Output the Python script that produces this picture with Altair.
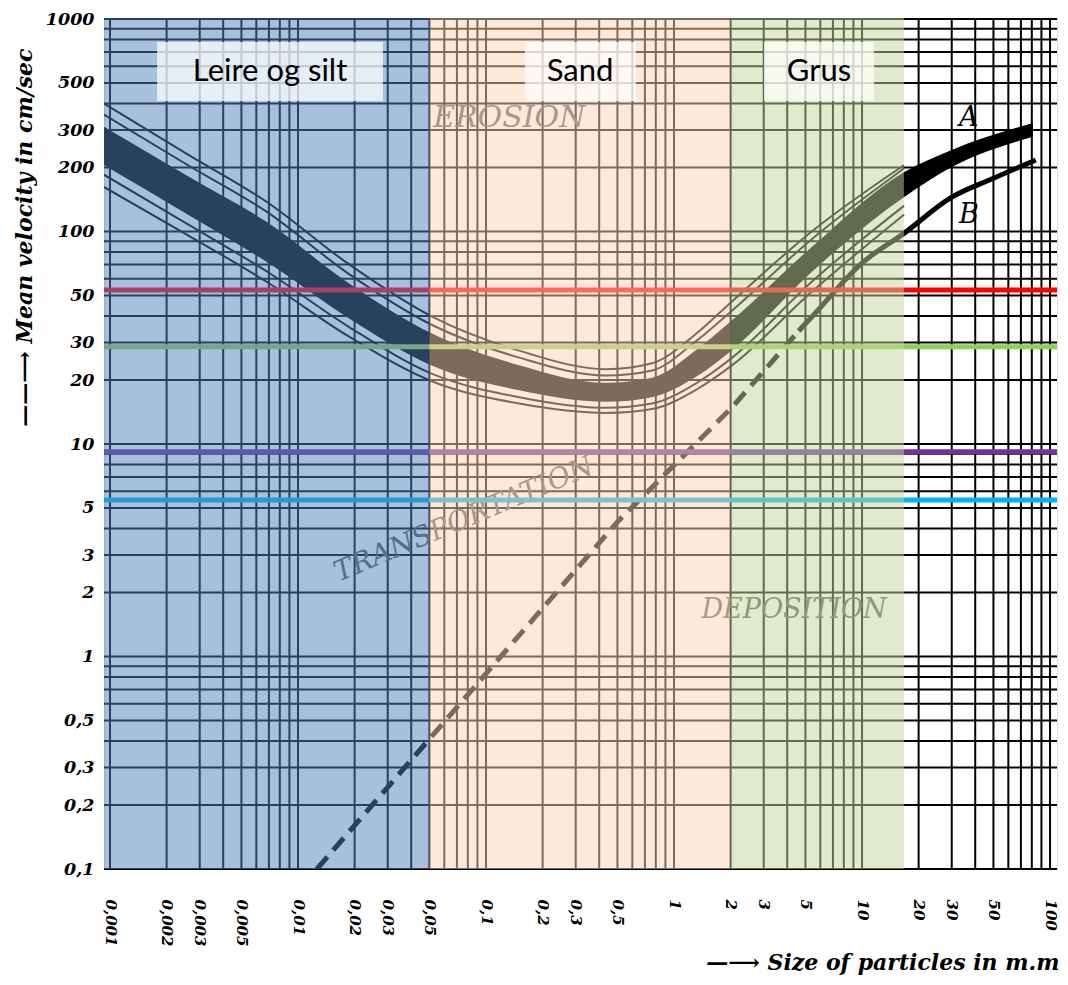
import altair as alt
import pandas as pd

# ---------------- data ----------------
x_tick_values = [0.001, 0.002, 0.003, 0.005, 0.01, 0.02, 0.03, 0.05, 0.1, 0.2, 0.3,
                 0.5, 1, 2, 3, 5, 10, 20, 30, 50, 100]
y_tick_values = [1000, 500, 300, 200, 100, 50, 30, 20, 10, 5, 3, 2, 1, 0.5, 0.3, 0.2, 0.1]

grid_mult = [1, 2, 3, 4, 5, 6, 7, 8, 9]
grid_x = [m * 10.0 ** e for e in [-3, -2, -1, 0, 1] for m in grid_mult] + [100]
grid_y = [m * 10.0 ** e for e in [-1, 0, 1, 2] for m in grid_mult] + [1000]

# particle-size classes (mm)
class_names = ["Leire og silt", "Sand", "Grus"]
class_from = [0.000929, 0.05, 2.0]
class_to = [0.05, 2.0, 16.7]
class_colors = ["#4F81BD", "#FBD4B4", "#C3D69B"]

# label boxes
box_from = [0.00178, 0.161, 3.01]
box_to = [0.0283, 0.628, 11.6]
box_top = [780, 780, 780]
box_bottom = [411, 411, 411]
box_text_d = [0.0071, 0.316, 5.9]
box_text_v = [563, 563, 563]

# horizontal reference velocities (cm/s)
ref_v = [53, 28.7, 9.2, 5.45]
ref_colors = ["#FF0000", "#92D050", "#7030A0", "#00B0F0"]

# erosion band (thick core) - grain size mm, velocity cm/s
band_d = [0.000929, 0.0026, 0.0068, 0.0187, 0.051, 0.15, 0.435, 0.764, 1.31, 2.04, 5.4, 16.7, 30, 81]
band_hi = [311, 182, 111, 57, 33.3, 23.5, 19.4, 20.5, 27.7, 38.3, 84.5, 190, 242, 324]
band_lo = [205, 120, 72, 39, 23.5, 17.9, 15.8, 16.6, 20.7, 27.7, 64.5, 145, 201, 279]

# thin lines accompanying the band
thin_d = [0.000929, 0.0026, 0.0068, 0.0187, 0.051, 0.15, 0.435, 0.764, 1.31, 2.04, 5.4, 16.7]
thin_t1 = [400, 230, 138, 70, 40, 27.5, 22.5, 24, 33, 47, 100, 205]
thin_t2 = [355, 205, 124, 63, 36.5, 25.5, 21, 22.2, 30.5, 42.5, 92, 198]
thin_l1 = [185, 108, 65, 35.5, 21.5, 16.6, 14.8, 15.5, 19.3, 25.5, 58, 132]
thin_l2 = [162, 96, 58, 32, 19.8, 15.5, 14, 14.6, 18, 23.5, 52, 120]

# deposition (dashed) line and curve B
dash_d = [0.0126, 0.5, 2.04, 4.6]
dash_v = [0.1, 4.3, 14.9, 34]
b_d = [4.6, 5.4, 10, 16.7, 30, 50, 84]
b_v = [34, 39.6, 71, 98, 145, 178, 217]

# in-plot words
word_text = ["EROSION", "TRANSPORTATION", "DEPOSITION"]
word_d = [0.133, 0.0764, 4.35]
word_v = [342, 4.39, 1.65]
word_angle = [0, 337, 0]
word_size = [30, 28, 27]

letter_text = ["A", "B"]
letter_d = [37.0, 37.0]
letter_v = [342, 119]

# ---------------- scales / encodings ----------------
XD = [0.000929, 108.9]
YD = [0.1, 1010.9]
W, H = 953, 851

label_font = "DejaVu Serif"

x_axis = alt.Axis(
    values=x_tick_values, grid=False, ticks=False, domain=False,
    labelExpr="replace(toString(datum.value), '.', ',')",
    labelAngle=90, labelAlign="left", labelBaseline="middle", labelPadding=30,
    labelFont=label_font, labelFontStyle="italic", labelFontWeight="bold",
    labelFontSize=15, labelColor="black", labelOverlap=False, labelFlush=False,
    title="\u2014\u27f6  Size of particles in m.m", titleFont=label_font,
    titleFontStyle="italic", titleFontWeight="bold", titleFontSize=22,
    titleColor="black", titleAlign="right", titleAnchor="end",
    titleX=W + 2, titleY=93, titleBaseline="middle", titleAngle=0,
)
y_axis = alt.Axis(
    values=y_tick_values, grid=False, ticks=False, domain=False,
    labelExpr="replace(toString(datum.value), '.', ',')",
    labelPadding=10, labelFont=label_font, labelFontStyle="italic",
    labelFontWeight="bold", labelFontSize=17.5, labelColor="black",
    labelOverlap=False, labelFlush=False,
    title="\u2014\u2014\u27f6  Mean velocity in cm/sec", titleFont=label_font,
    titleFontStyle="italic", titleFontWeight="bold", titleFontSize=22,
    titleColor="black", titleAngle=270, titleAlign="right", titleBaseline="middle",
    titleX=-80, titleY=30,
)


def X(f):
    return alt.X(f, type="quantitative", scale=alt.Scale(type="log", domain=XD), axis=x_axis)


def Y(f):
    return alt.Y(f, type="quantitative", scale=alt.Scale(type="log", domain=YD), axis=y_axis)


# ---------------- layers ----------------
grid_v_df = pd.DataFrame({"d": grid_x})
grid_h_df = pd.DataFrame({"v": grid_y})
grid_v = alt.Chart(grid_v_df).mark_rule(color="black", strokeWidth=2).encode(x=X("d"))
grid_h = alt.Chart(grid_h_df).mark_rule(color="black", strokeWidth=2).encode(y=Y("v"))

band_df = pd.DataFrame({"d": band_d, "hi": band_hi, "lo": band_lo})
band = alt.Chart(band_df).mark_area(color="black", interpolate="monotone", clip=True).encode(
    x=X("d"), y=Y("hi"), y2="lo"
)

thin_rows = []
for name, vals in [("t1", thin_t1), ("t2", thin_t2), ("l1", thin_l1), ("l2", thin_l2)]:
    for d, v in zip(thin_d, vals):
        thin_rows.append({"d": d, "v": v, "s": name})
thin_df = pd.DataFrame(thin_rows)
thin = alt.Chart(thin_df).mark_line(color="black", strokeWidth=2, interpolate="monotone", clip=True).encode(
    x=X("d"), y=Y("v"), detail="s:N"
)

dash_df = pd.DataFrame({"d": dash_d, "v": dash_v})
dash = alt.Chart(dash_df).mark_line(color="black", strokeWidth=5, strokeDash=[16, 9], clip=True).encode(
    x=X("d"), y=Y("v")
)

b_df = pd.DataFrame({"d": b_d, "v": b_v})
bline = alt.Chart(b_df).mark_line(color="black", strokeWidth=5, interpolate="monotone", clip=True).encode(
    x=X("d"), y=Y("v")
)

word_layers = []
for t, d, v, a, s in zip(word_text, word_d, word_v, word_angle, word_size):
    wdf = pd.DataFrame({"d": [d], "v": [v], "t": [t]})
    word_layers.append(
        alt.Chart(wdf).mark_text(font="DejaVu Serif", fontStyle="italic", fontSize=s,
                                 color="#5a5a5a", angle=a).encode(x=X("d"), y=Y("v"), text="t:N")
    )

letter_df = pd.DataFrame({"d": letter_d, "v": letter_v, "t": letter_text})
letters = alt.Chart(letter_df).mark_text(font="DejaVu Serif", fontStyle="italic", fontSize=27,
                                         color="black").encode(x=X("d"), y=Y("v"), text="t:N")

ref_df = pd.DataFrame({"v": ref_v, "c": ref_colors})
refs = alt.Chart(ref_df).mark_rule(strokeWidth=5).encode(
    y=Y("v"), color=alt.Color("c:N", scale=None)
)

class_df = pd.DataFrame({"d1": class_from, "d2": class_to, "v1": [YD[0]] * 3, "v2": [YD[1]] * 3,
                         "c": class_colors, "n": class_names})
overlay = alt.Chart(class_df).mark_rect(opacity=0.5).encode(
    x=X("d1"), x2="d2", y=Y("v1"), y2="v2", color=alt.Color("c:N", scale=None)
)

box_df = pd.DataFrame({"d1": box_from, "d2": box_to, "v1": box_bottom, "v2": box_top})
boxes = alt.Chart(box_df).mark_rect(color="white", opacity=0.72).encode(
    x=X("d1"), x2="d2", y=Y("v1"), y2="v2"
)

box_text_df = pd.DataFrame({"d": box_text_d, "v": box_text_v, "t": class_names})
box_texts = alt.Chart(box_text_df).mark_text(font="Lato", fontSize=31, color="black").encode(
    x=X("d"), y=Y("v"), text="t:N"
)

chart = alt.layer(
    grid_v, grid_h, band, thin, dash, bline, *word_layers, letters, refs,
    overlay, boxes, box_texts
).properties(
    width=W, height=H,
    autosize=alt.AutoSizeParams(type="none"),
    padding={"left": 96, "top": 10, "right": 3, "bottom": 108},
).configure_view(
    stroke="black", strokeWidth=2, fill="white"
).configure(background="white")

chart.save("out.html", embed_options={"renderer": "svg", "actions": False})
